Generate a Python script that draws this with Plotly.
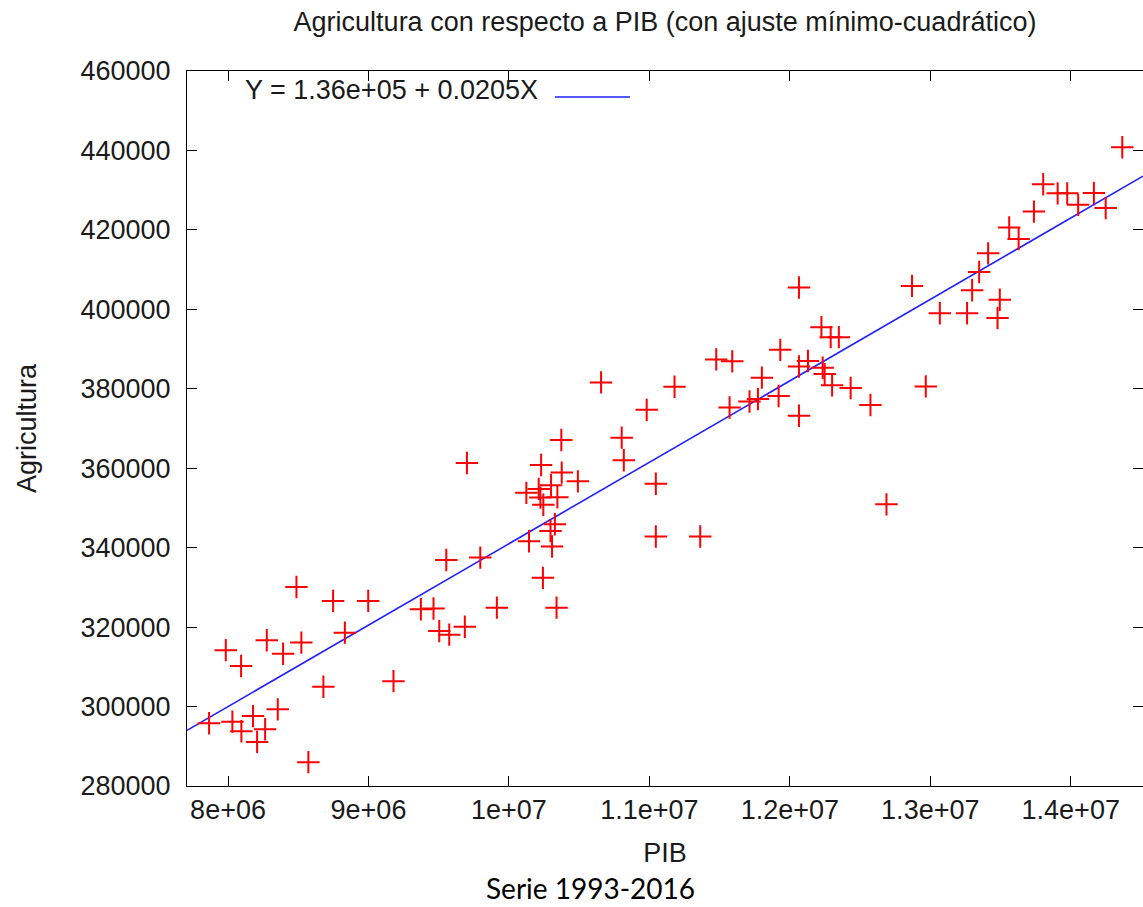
import plotly.graph_objects as go

# ---- data ----
pib = [7.865e6, 7.984e6, 8.031e6, 8.093e6, 8.095e6, 8.178e6, 8.207e6, 8.264e6, 8.276e6, 8.354e6,
       8.392e6, 8.487e6, 8.522e6, 8.572e6, 8.679e6, 8.748e6, 8.832e6, 8.998e6, 9.178e6, 9.373e6,
       9.463e6, 9.504e6, 9.554e6, 9.575e6, 9.686e6, 9.701e6, 9.796e6, 9.914e6, 10.124e6, 10.143e6,
       10.212e6, 10.224e6, 10.229e6, 10.242e6, 10.245e6, 10.296e6, 10.300e6, 10.307e6, 10.327e6, 10.339e6,
       10.345e6, 10.373e6, 10.376e6, 10.491e6, 10.656e6, 10.803e6, 10.818e6, 10.981e6, 11.046e6, 11.046e6,
       11.179e6, 11.362e6, 11.476e6, 11.571e6, 11.590e6, 11.713e6, 11.773e6, 11.801e6, 11.920e6, 11.932e6,
       12.065e6, 12.065e6, 12.065e6, 12.129e6, 12.225e6, 12.234e6, 12.248e6, 12.291e6, 12.301e6, 12.349e6,
       12.433e6, 12.574e6, 12.688e6, 12.870e6, 12.968e6, 13.068e6, 13.262e6, 13.298e6, 13.348e6, 13.412e6,
       13.479e6, 13.495e6, 13.562e6, 13.629e6, 13.738e6, 13.804e6, 13.907e6, 13.975e6, 14.053e6, 14.165e6,
       14.249e6, 14.367e6]
agricultura = [295800, 314200, 296200, 310200, 293800, 297600, 291100, 294300, 316700, 299300,
               313300, 330100, 316100, 286000, 305000, 326600, 318600, 326600, 306400, 324500,
               324700, 319000, 336900, 318100, 320100, 361300, 337500, 324900, 353800, 341600,
               354800, 352600, 360800, 332400, 350800, 344200, 355700, 340300, 345900, 324900,
               352700, 367100, 358900, 356700, 381600, 367700, 362000, 374700, 356100, 342800,
               380500, 342800, 387400, 375300, 386900, 376800, 377400, 382800, 378200, 389800,
               405500, 385600, 373200, 387000, 395500, 385300, 383700, 393000, 380900, 393000,
               380200, 375900, 350900, 405900, 380600, 399000, 399000, 404800, 409400, 414100,
               397800, 402400, 420600, 417700, 424600, 431500, 429200, 429200, 426300, 429300,
               425500, 440800]

fit_intercept = 1.36e5
fit_slope = 0.0205
fit_label = "Y = 1.36e+05 + 0.0205X"

x_range = [7.7078e6, 1.45146e7]
y_range = [280000, 460000]
x_tickvals = [8e6, 9e6, 1e7, 1.1e7, 1.2e7, 1.3e7, 1.4e7]
x_ticktext = ["8e+06", "9e+06", "1e+07", "1.1e+07", "1.2e+07", "1.3e+07", "1.4e+07"]
y_tickvals = [280000, 300000, 320000, 340000, 360000, 380000, 400000, 420000, 440000, 460000]
y_ticktext = [str(v) for v in y_tickvals]

title_text = "Agricultura con respecto a PIB (con ajuste mínimo-cuadrático)"
x_title = "PIB"
y_title = "Agricultura"
caption = "Serie 1993-2016"

# ---- figure ----
FONT = "Liberation Sans, Arial, Helvetica, sans-serif"
FS = 27
TXT = "#1a1a1a"
W, H = 1143, 907
L, T, B, R = 187, 71, 121, 0
pw, ph = W - L - R, H - T - B


def px(xp):
    return (xp - L) / pw


def py(yp):
    return (H - B - yp) / ph


fit_x = list(x_range)
fit_y = [fit_intercept + fit_slope * v for v in fit_x]

fig = go.Figure()
fig.add_trace(go.Scatter(
    x=fit_x, y=fit_y, mode="lines",
    line=dict(color="#1f1fff", width=1.6),
    name=fit_label, showlegend=False, hoverinfo="skip"))
fig.add_trace(go.Scatter(
    x=pib, y=agricultura, mode="markers",
    marker=dict(symbol="cross-thin", size=16, line=dict(color="#ff0000", width=2), color="#ff0000"),
    name="datos", showlegend=False))

axis_common = dict(
    showgrid=False, zeroline=False, showline=True, linecolor="black", linewidth=1,
    mirror="ticks", ticks="inside", ticklen=10, tickwidth=1, tickcolor="black",
    tickfont=dict(family=FONT, size=FS, color=TXT),
)

fig.update_xaxes(
    range=x_range, tickmode="array", tickvals=x_tickvals, ticktext=x_ticktext,
    title=dict(text=x_title, font=dict(family=FONT, size=FS, color=TXT), standoff=18),
    automargin=False, **axis_common)
fig.update_yaxes(
    range=y_range, tickmode="array", tickvals=y_tickvals, ticktext=y_ticktext,
    ticklabelstandoff=10,
    title=dict(text=y_title, font=dict(family=FONT, size=FS, color=TXT), standoff=36),
    automargin=False, **axis_common)

fig.add_annotation(
    xref="paper", yref="paper", x=px(243), y=py(90), xanchor="left", yanchor="middle",
    text=fit_label, showarrow=False, font=dict(family=FONT, size=FS, color=TXT))
fig.add_shape(
    type="line", xref="paper", yref="paper", x0=px(555), x1=px(630), y0=py(97), y1=py(97),
    line=dict(color="#1f1fff", width=1.6))

fig.add_annotation(
    xref="paper", yref="paper", x=px(590), y=py(888), xanchor="center", yanchor="middle",
    text=caption, showarrow=False, font=dict(family="Lato, Carlito, sans-serif", size=28, color="black"))

fig.update_layout(
    width=W, height=H,
    margin=dict(l=L, r=R, t=T, b=B, pad=0),
    paper_bgcolor="white", plot_bgcolor="white",
    title=dict(text=title_text, x=px(665), xref="paper", y=1 - 22 / H, yref="container",
               xanchor="center", yanchor="middle",
               font=dict(family=FONT, size=FS, color=TXT)),
    showlegend=False,
)

fig.write_html("out.html", config={"displayModeBar": False},
               post_script="document.body.style.margin='0';document.body.style.overflow='hidden';")
